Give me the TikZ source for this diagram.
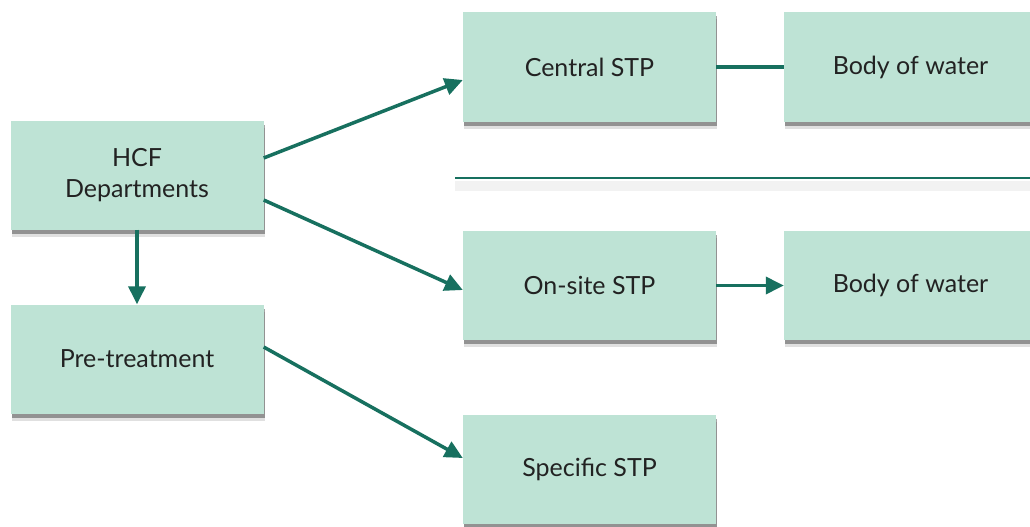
\documentclass[tikz,border=0pt]{standalone}
\usepackage{fontspec}
\setmainfont{Lato}
\usetikzlibrary{shadows,arrows.meta}
\definecolor{boxfill}{HTML}{BEE3D5}
\definecolor{teal1}{HTML}{17705F}
\definecolor{txt}{HTML}{222222}
\tikzset{
  box/.style={rectangle, fill=boxfill, minimum width=253pt, minimum height=109pt, inner sep=0pt,
    align=center, text=txt, font=\fontsize{25}{31}\selectfont,
    preaction={fill=black, opacity=0.12, transform canvas={xshift=1pt,yshift=-7pt}},
    drop shadow={shadow xshift=1pt, shadow yshift=-4pt, fill=black, opacity=0.35}},
  conn/.style={draw=teal1, line width=3.5pt},
  arr/.style={conn, -{Triangle[length=18pt,width=17pt]}},
}
\begin{document}
\begin{tikzpicture}[x=1pt,y=-1pt]
\useasboundingbox (0,0) rectangle (1030,527);
\clip (0,0) rectangle (1030,527);
\node[box] (hcf) at (137,175) {HCF\\Departments};
\node[box] (pre) at (137,359) {Pre-treatment};
\node[box] (cen) at (589.5,67) {Central STP};
\node[box] (bw1) at (910.5,67) {Body of water};
\node[box] (ons) at (589.5,285.5) {On-site STP};
\node[box] (bw2) at (910.5,285.5) {Body of water};
\node[box] (spe) at (589.5,469) {Specific STP};
\coordinate (s1) at (455,178);
\coordinate (s2) at (1035,178);
\draw[draw=black, opacity=0.05, line width=10pt, transform canvas={yshift=-8pt}] (s1) -- (s2);
\draw[draw=teal1, line width=2pt] (s1) -- (s2);
\draw[conn] (cen.east) -- (bw1.west);
\draw[arr] (ons.east) -- (bw2.west);
\draw[arr] (hcf.east |- 0,158) -- (cen.west |- 0,80);
\draw[arr] (hcf.east |- 0,200) -- (ons.west |- 0,290);
\draw[arr] (hcf.south) -- (pre.north);
\draw[arr] (pre.east |- 0,347) -- (spe.west |- 0,458);
\end{tikzpicture}
\end{document}
